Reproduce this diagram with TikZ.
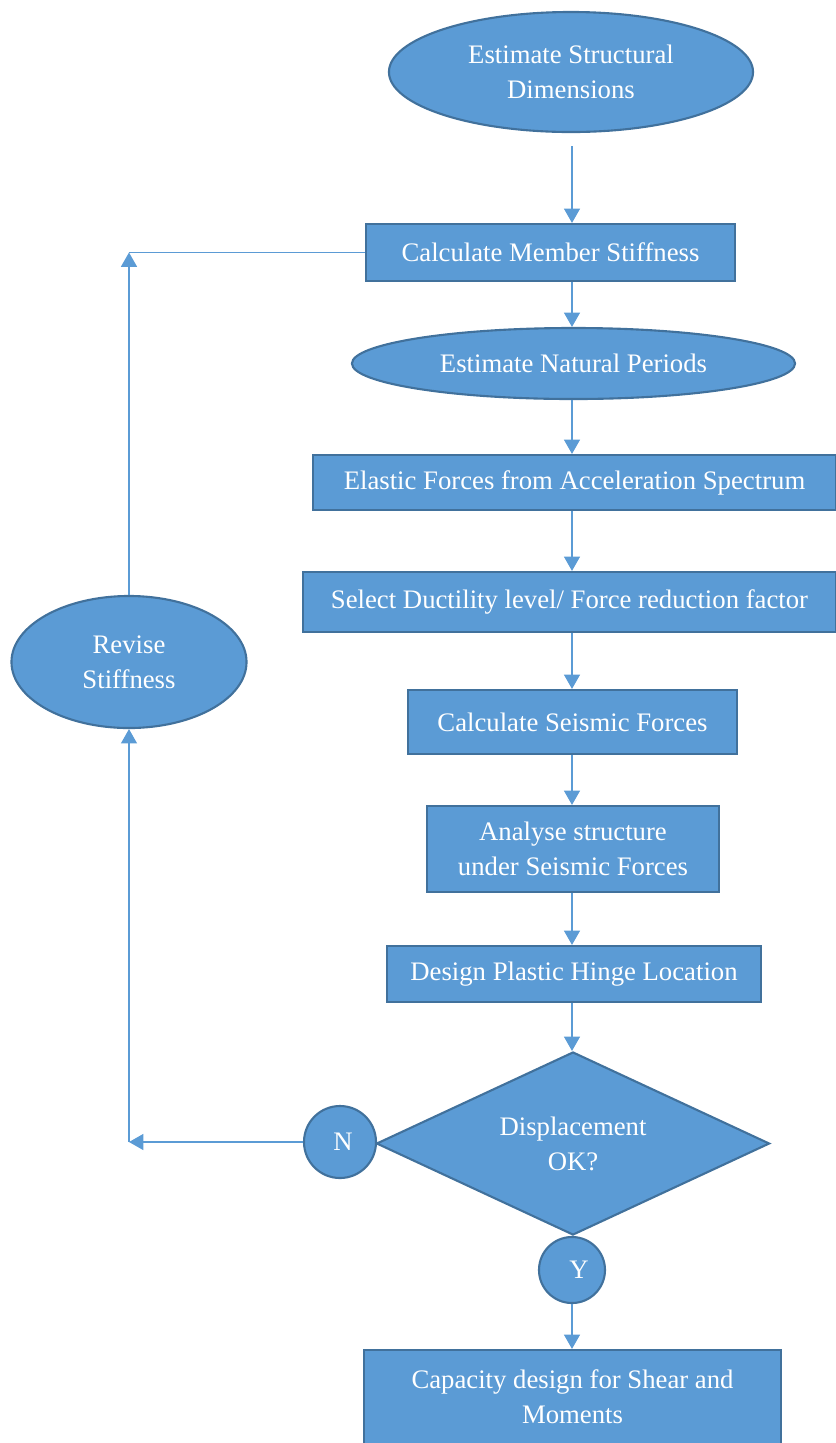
\documentclass[tikz,border=0pt]{standalone}
\usepackage{fontspec}
\setmainfont{Liberation Serif}
\usetikzlibrary{arrows.meta, positioning, shapes.geometric}
\definecolor{boxfill}{HTML}{5B9BD5}
\definecolor{boxline}{HTML}{41719C}
\definecolor{flowline}{HTML}{5B9BD5}

\begin{document}
\begin{tikzpicture}[x=0.025cm, y=-0.025cm,
			>={Triangle[width=0.4cm, length=0.36cm]},
			box/.style={rectangle, draw=boxline, fill=boxfill, line width=1.5pt,
				text=white, align=center, inner sep=0pt,
				font=\fontsize{19}{25}\selectfont},
			oval/.style={box, ellipse},
			flow/.style={->, draw=flowline, line width=1.1pt}]
			
			\useasboundingbox (0,0) rectangle (836,1443);
			
			% Main column
			\node[oval, minimum width=9.1cm, minimum height=3cm] (dims) at (571,72) {Estimate Structural\\Dimensions};
			\node[box, minimum width=9.225cm, minimum height=1.425cm] (stiff) at (550.5,252.5) {Calculate Member Stiffness};
			\node[oval, minimum width=11.075cm, minimum height=1.775cm] (period) at (573.5,363.5) {Estimate Natural Periods};
			\node[box, minimum width=13.075cm, minimum height=1.375cm] (elastic) at (574.5,482.5) {Elastic Forces from Acceleration Spectrum};
			\node[box, minimum width=13.325cm, minimum height=1.5cm] (ductil) at (569.5,602) {Select Ductility level/ Force reduction factor};
			\node[box, minimum width=8.225cm, minimum height=1.6cm] (seismic) at (572.5,722) {Calculate Seismic Forces};
			\node[box, minimum width=7.3cm, minimum height=2.15cm] (analyse) at (573,849) {Analyse structure\\under Seismic Forces};
			\node[box, minimum width=9.35cm, minimum height=1.4cm] (hinge) at (574,974) {Design Plastic Hinge Location};
			\node[box, diamond, shape aspect=2.15, minimum width=9.825cm, minimum height=4.575cm] (check) at (573,1143.5) {Displacement\\OK?};
			\node[box, circle, minimum size=1.8cm] (no) at (340,1142) {\hspace{0.15cm}N};
			\node[box, circle, minimum size=1.65cm] (yes) at (572,1270) {\hspace{0.35cm}Y};
			\node[box, minimum width=10.425cm, minimum height=2.35cm] (capac) at (572.5,1397) {Capacity design for Shear and\\Moments};
			
			% Loop back
			\node[oval, minimum width=5.875cm, minimum height=3.3cm] (revise) at (129,662) {Revise\\Stiffness};
			\coordinate (lowcorner) at (129,1142);
			\coordinate (topcorner) at (129,252.5);
			\coordinate (spine) at (572,0);
			
			% --- Connectors ---
			\draw[flow] ([yshift=-13*0.025cm]spine |- dims.south) -- (spine |- stiff.north);
			\draw[flow] (spine |- stiff.south) -- (spine |- period.north);
			\draw[flow] (spine |- period.south) -- (spine |- elastic.north);
			\draw[flow] (spine |- elastic.south) -- (spine |- ductil.north);
			\draw[flow] (spine |- ductil.south) -- (spine |- seismic.north);
			\draw[flow] (spine |- seismic.south) -- (spine |- analyse.north);
			\draw[flow] (spine |- analyse.south) -- (spine |- hinge.north);
			\draw[flow] (spine |- hinge.south) -- (spine |- check.north);
			\draw[flow] (spine |- yes.south) -- (spine |- capac.north);
			
			% N branch
			\draw[flow] (no.west) -- (lowcorner);
			\draw[flow] (lowcorner) -- (revise.south);
			\draw[flow] (revise.north) -- (topcorner);
			\draw[flowline, line width=1.1pt] (stiff.west) -- (topcorner);
		\end{tikzpicture}
\end{document}
